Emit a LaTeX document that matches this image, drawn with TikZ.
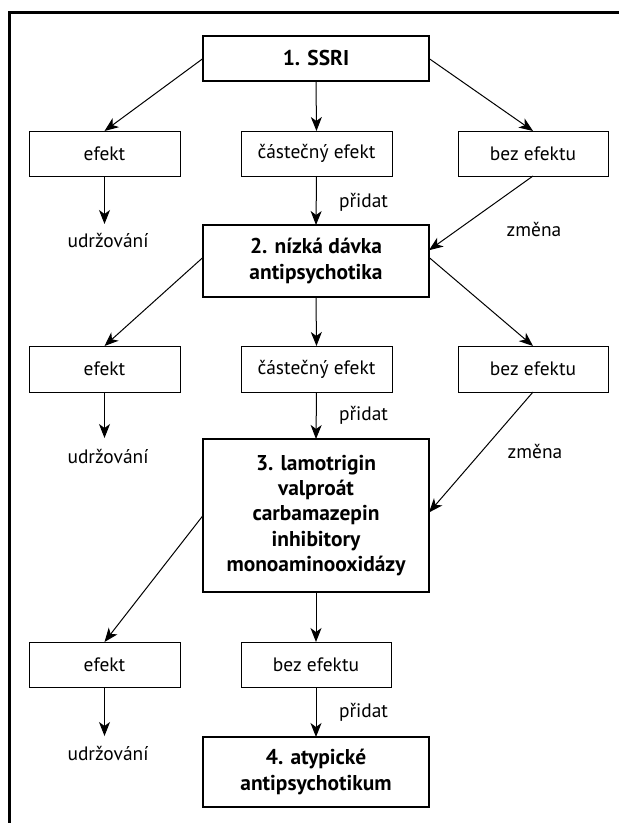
\documentclass[tikz,border=0pt]{standalone}
\usepackage{fontspec}
\setmainfont{PT Sans}
\usetikzlibrary{arrows.meta,calc}
\begin{document}
\begin{tikzpicture}[x=1bp,y=-1bp,
  every node/.style={inner sep=0pt,outer sep=0pt,font=\fontsize{19.5}{25}\selectfont},
  small/.style={draw,line width=0.9bp,minimum width=151bp,minimum height=45bp,align=center},
  mainbox/.style={draw,line width=1.6bp,minimum width=226bp,align=center,font=\fontsize{21.5}{25.5}\selectfont\bfseries},
  lbl/.style={align=center},
  arr/.style={line width=1bp,-{Stealth[length=14bp,width=11bp,inset=4bp]}}]
\useasboundingbox (0,0) rectangle (619,823);
% frame
\draw[line width=3bp,line cap=rect] (9.5,823) -- (9.5,12.5) -- (619,12.5);
% row 0
\node[mainbox,minimum height=45bp] (b1) at (316,58.5) {1. SSRI};
% row 1
\node[small] (r1a) at (104.5,153.5) {efekt};
\node[small] (r1b) at (316.5,153.5) {částečný efekt};
\node[small,minimum width=150bp] (r1c) at (533,153.5) {bez efektu};
\node[lbl] (u1) at (108,241) {udržování};
\node[lbl,anchor=west] (p1) at (339,202) {přidat};
\node[lbl] (z1) at (534,230) {změna};
\coordinate (e1) at (104.5,224);
% box 2
\node[mainbox,minimum height=72bp] (b2) at (316,261) {2. nízká dávka\\antipsychotika};
% row 2
\node[small,minimum height=46bp] (r2a) at (104.5,369) {efekt};
\node[small,minimum height=46bp] (r2b) at (316.5,369) {částečný efekt};
\node[small,minimum width=150bp,minimum height=46bp] (r2c) at (533,369) {bez efektu};
\node[lbl] (u2) at (108,457) {udržování};
\node[lbl,anchor=west] (p2) at (339,415) {přidat};
\node[lbl] (z2) at (535,452) {změna};
\coordinate (e2) at (104.5,438);
% box 3
\node[mainbox,minimum height=153bp] (b3) at (316,515.5) {3. lamotrigin\\valproát\\carbamazepin\\inhibitory\\monoaminooxidázy};
% row 3
\node[small] (r3a) at (104.5,664.5) {efekt};
\node[small,minimum width=150bp] (r3b) at (316,664.5) {bez efektu};
\node[lbl] (u3) at (108,753) {udržování};
\node[lbl,anchor=west] (p3) at (339,712) {přidat};
\coordinate (e3) at (104.5,736);
% box 4
\node[mainbox,minimum height=70bp] (b4) at (316,772) {4. atypické\\antipsychotikum};
% arrows
\draw[arr] (b1.west) -- (r1a.north);
\draw[arr] (b1.south) -- (r1b.north);
\draw[arr] (b1.east) -- (r1c.north);
\draw[arr] (r1a.south) -- (e1);
\draw[arr] (r1b.south) -- (b2.north);
\draw[arr] (r1c.south) -- ($(b2.north east)!0.35!(b2.south east)$);
\draw[arr] ($(b2.north west)!0.45!(b2.south west)$) -- (r2a.north);
\draw[arr] (b2.south) -- (r2b.north);
\draw[arr] ($(b2.north east)!0.45!(b2.south east)$) -- (r2c.north);
\draw[arr] (r2a.south) -- (e2);
\draw[arr] (r2b.south) -- (b3.north);
\draw[arr] (r2c.south) -- ($(b3.north east)!0.48!(b3.south east)$);
\draw[arr] ($(b3.north west)!0.5!(b3.south west)$) -- (r3a.north);
\draw[arr] (b3.south) -- (r3b.north);
\draw[arr] (r3a.south) -- (e3);
\draw[arr] (r3b.south) -- (b4.north);
\end{tikzpicture}
\end{document}
